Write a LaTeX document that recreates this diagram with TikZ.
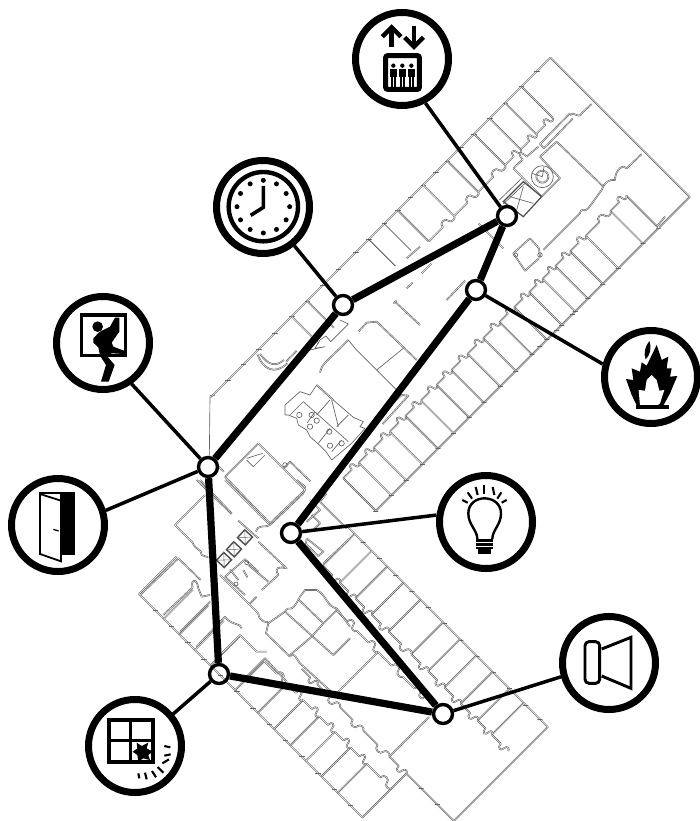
\documentclass[tikz,border=0pt]{standalone}
\usetikzlibrary{calc}
\tikzset{
  zf/.style 2 args={shift={(#1,#2)},x=.33333pt,y=-.33333pt},
  wall/.style={draw=black!62,double=white,double distance=.4pt,line width=.62pt,line join=round},
  thinw/.style={draw=black!62,line width=.65pt,line join=round},
  badge/.style={circle,draw=black,line width=7pt,minimum size=93pt,inner sep=0pt},
  hub/.style={circle,draw=black,line width=3.4pt,minimum size=19pt,inner sep=0pt},
  route/.style={draw=black,line width=7.2pt},
  spoke/.style={draw=black,line width=3.5pt},
  ic/.style={draw=black,line join=miter},
  wingA/.style={shift={(211,397)},x={(.7071pt,.7071pt)},y={(.7071pt,-.7071pt)}},
  wingB/.style={shift={(139,594)},x={(.7071pt,-.7071pt)},y={(.7071pt,.7071pt)}},
}
\newcommand\dw[4]{\pgfmathsetmacro\dwm{#1+.55*(#2-#1)}\pgfmathsetmacro\dwn{#1+.8*(#2-#1)}%
\draw[wall] (#1,#3)--(\dwm,#3) .. controls (\dwm,#3+#4) and (\dwn,#3+#4) .. (\dwn,#3) .. controls (\dwn,#3-.5*#4) and (#2,#3-.5*#4) .. (#2,#3);}
\newcommand\tick[2]{\draw[thinw,fill=white] (#1-1.6,#2-1.6) rectangle (#1+1.6,#2+1.6);}
\begin{document}
\begin{tikzpicture}[x=1pt,y=-1pt]
\useasboundingbox (0,0) rectangle (699,821);
\fill[white] (0,0) rectangle (699,821);

% ---------- wing A (upper, running up-right)
\begin{scope}[wingA]
  \draw[wall] (0,0)--(480,0)--(480,197)--(36,197)--(36,151);
  \foreach \u in {2,24,46,68,90,114,136,158,180,205,223,245,264,282,300,318,334,353,372,394,416,439,461} {\tick{\u}{0}}
  \foreach \u in {268,292,314} {\tick{\u}{197}}
  \foreach \u in {439,416,394,372,334,300,264} {\draw[wall] (\u,0)--(\u,44);}
  \foreach \u in {245,223} {\draw[thinw,draw=black!80] (\u,0)--(\u,38);}
  \foreach \u in {136,114} {\draw[wall] (\u,0)--(\u,38);}
  \foreach \a/\b in {264/300,300/334,334/372,372/394,394/416,416/439} {\dw{\a}{\b}{44}{-6}}
  \foreach \u in {36,58,79,102,124,146,168,189,212,234,257,278,299,318,336,357,379,414,436} {\draw[wall] (\u,197)--(\u,151);\tick{\u}{197}}
  \foreach \a/\b in {36/58,58/79,79/102,102/124,124/146,146/168,168/189,189/212,212/234,234/257,257/278,278/299,299/318,318/336,336/357,357/379,379/414,414/436} {\dw{\a}{\b}{151}{-6}}
  \draw[wall] (436,197)--(458,175);
\end{scope}

% ---------- wing B (lower, running down-right)
\begin{scope}[wingB]
  \draw[wall] (0,53)--(0,0)--(316,0)--(316,62)--(383,62)--(383,195)--(100,195);
  \foreach \p in {23,46,69,92,115,138,161,184,207,230,253,276,299} {\tick{\p}{0}}
  \foreach \p in {337,360} {\tick{\p}{62}}
  \foreach \p in {122,145,168,191,214,237,260,283,306,329,352,372} {\tick{\p}{195}}
  \foreach \p in {35,57,79,101,136,168,191,214,236,258,281} {\draw[wall] (\p,0)--(\p,41);}
  \foreach \a/\b in {136/168,168/191,191/214,214/236,236/258,258/281,281/316} {\dw{\a}{\b}{41}{6}}
  \foreach \p in {110,134,156,179,203,235,259,282,305,329,349} {\draw[wall] (\p,195)--(\p,150);}
  \foreach \a/\b in {110/134,134/156,156/179,179/203,203/235,235/259,259/282,282/305,305/329,329/349,349/372} {\dw{\a}{\b}{150}{-6}}
  \foreach \a/\b in {168/190,190/222,222/255,255/292,292/316} {\dw{\a}{\b}{62}{-6}}
  \draw[wall] (210,68)--(210,128);
  \draw[wall] (292,62)--(292,118);
  \foreach \a/\b in {150/180,180/210,210/245,245/275} {\dw{\a}{\b}{128}{6}}
\end{scope}

% ---------- central core, traced in the frame of the crops
\begin{scope}[zf={130}{480}]
  \draw[wall] (225,45)--(135,135)--(187,187) .. controls (200,215) and (215,205) .. (215,225) -- (235,232);
  \draw[wall] (30,345)--(145,235)--(212,300);
  \draw[wall] (100,405)--(188,322) .. controls (180,300) and (200,290) .. (205,325) -- (215,350) -- (240,345);
  \draw[wall] (150,455)--(240,365);
  \draw[wall] (200,500)--(285,410) .. controls (300,435) and (335,430) .. (335,445);
  \draw[wall] (270,525)--(330,465)--(380,515)--(410,515);
  \draw[wall] (350,590)--(405,535)--(470,605);
  \draw[wall] (270,285)--(385,400) .. controls (385,425) and (415,430) .. (415,425);
  \draw[wall] (360,370)--(380,350);
  \draw[wall] (285,290)--(345,238)--(385,275);
  \draw[wall] (285,290)--(345,345);
  \draw[wall] (300,268)--(325,300);
  \draw[wall] (395,330)--(445,285) .. controls (430,260) and (450,260) .. (470,265) -- (385,185);
  \draw[wall] (355,255)--(415,305);
  \draw[wall] (325,122)--(385,175);
  \draw[wall] (340,270)--(352,292);
  \draw[wall] (285,0)--(420,135)--(520,40)--(525,20)--(500,0);
  \draw[wall] (378,155) .. controls (385,130) and (405,145) .. (420,135);
  \draw[wall] (200,0)--(305,102);
  \draw[wall] (415,430)--(465,395) .. controls (480,370) and (480,410) .. (510,350)--(525,330)--(560,330) .. controls (590,345) and (590,380) .. (620,385) -- (660,440);
  \draw[wall] (415,430)--(408,460)--(480,530);
  \draw[wall] (465,395)--(610,525)--(660,475);
  \draw[wall] (505,358)--(580,430)--(620,390);
  \draw[wall] (480,525)--(545,470);
  \draw[wall] (545,470)--(580,430);
  \draw[wall] (480,530) .. controls (490,510) and (505,545) .. (510,550)--(620,650);
  \draw[wall] (530,175)--(580,215)--(565,228)--(528,192)--(530,175);
  \draw[wall] (545,105)--(570,130)--(550,150);
  \draw[wall] (580,250)--(660,175);
  % lift shaft boxes
  \foreach \cx/\cy in {282/240,312/208,345/172} {
    \begin{scope}[shift={(\cx,\cy)},rotate=-43]
      \draw[gray!60!black,line width=1.4pt] (-16,-16) rectangle (16,16);
      \draw[black!60,line width=.5pt] (-16,-16)--(16,16) (-16,16)--(16,-16);
    \end{scope}}
  \draw[thinw] (318,312) circle (6) (350,248) circle (6);
\end{scope}

\begin{scope}[zf={200}{280}]
  \draw[thinw] (30,350)--(28,530);
  \draw[wall] (30,350)--(40,345);
  \draw[wall] (172,222) .. controls (190,270) and (225,285) .. (262,250);
  \draw[wall] (180,222) .. controls (205,255) and (225,262) .. (252,240);
  \draw[wall] (258,245)--(290,212);
  \draw[thinw] (330,210)--(375,200)--(345,205)--(360,180)--(378,168)--(392,185)--(445,132)--(420,120);
  \draw[wall] (360,278) .. controls (362,255) and (380,245) .. (445,180);
  \draw[thinw] (445,180)--(465,205)--(590,330) (530,270)--(610,205);
  \draw[wall] (475,155)--(500,128)--(530,125)--(650,240);
  \draw[wall] (585,65)--(660,135);
  \draw[wall] (580,70)--(590,62);
  % wash-room cluster
  \draw[thinw] (255,405)--(255,375)--(300,335)--(330,345)--(350,315)--(400,360)--(460,412)--(490,425)--(480,440)--(495,445)--(455,490)--(395,540)--(378,515)--(358,495)--(330,470)--(320,450)--(295,435)--(290,415)--(265,405)--(255,405);
  \draw[wall] (350,315)--(400,360);
  \draw[thinw] (310,365)--(270,405) (310,365)--(445,485) (350,405)--(390,360) (395,360)--(415,440) (410,440)--(445,405)
               (345,395)--(322,428) (390,445)--(355,490) (425,480)--(395,515);
  \foreach \x/\y in {298/405,335/405,350/422,330/440,388/455,390/497,425/490} {\draw[thinw] (\x,\y) circle (8);}
  % lower-left room
  \draw[wall] (75,590)--(175,490)--(250,565);
  \draw[wall] (75,590)--(210,730)--(315,630)--(250,565);
  \draw[wall] (250,565)--(270,545)--(332,605);
  \draw[thinw] (140,540)--(160,560)--(195,525) (140,535)--(188,520);
  \draw[wall] (0,600)--(95,700);
  \draw[wall] (50,555)--(72,575);
  \draw[thinw] (255,555) circle (7);
  % strip beside the route
  \draw[wall] (548,432)--(625,347)--(605,345)--(530,415);
  \draw[wall] (380,640)--(360,665)--(440,745);
  \draw[wall] (320,725)--(360,690)--(330,660);
\end{scope}

\begin{scope}[zf={340}{0}]
  \draw[wall] (755,312)--(725,340) .. controls (715,360) and (700,330) .. (690,345);
  \draw[wall] (690,340)--(600,432)--(612,445)--(698,356);
  \draw[wall] (905,462)--(860,505) .. controls (850,490) and (825,510) .. (825,540) .. controls (810,535) and (790,550) .. (785,570)--(745,625);
  \draw[wall] (650,425)--(790,560);
  \draw[wall] (600,470)--(650,425);
  \draw[wall] (600,470)--(660,535)--(605,590);
  \draw[wall] (520,505)--(605,590);
  \draw[wall] (520,505)--(548,478) .. controls (530,460) and (540,450) .. (560,470) -- (595,440);
  \draw[black!70,line width=1.2pt] (550,545)--(605,590)--(550,650)--(490,605)--cycle;
  \draw[thinw] (550,560)--(530,630) (510,590)--(580,610) (478,600)--(545,535) (490,612)--(555,550);
  \draw[thinw] (607,530) circle (33);
  \draw[wall] (607,530) circle (18);
  \draw[thinw] (607,530)--(575,520) (607,530)--(612,500);
  \draw[wall] (745,625) .. controls (725,640) and (725,620) .. (720,640)--(610,750);
  \draw[wall] (570,715)--(520,760)--(555,812)--(597,775);
  \draw[wall] (570,715)--(597,745)--(600,770);
  \draw[thinw] (600,765) circle (7) (527,765) circle (6);
  \draw[wall] (415,670)--(490,745);
  \draw[wall] (200,775)--(240,740);
  \draw[wall] (245,820)--(275,790);
  \draw[wall] (200,865)--(218,848);
  \draw[wall] (320,900)--(375,842);
  \draw[wall] (975,650)--(950,680);
\end{scope}

% ---------- hubs and badges
\node[hub] (elevHub) at (507,216) {};
\node[hub] (fireHub) at (476,290) {};
\node[hub] (clockHub) at (343,305) {};
\node[hub] (doorHub) at (208,467) {};
\node[hub] (glassHub) at (219,674) {};
\node[hub,fill=white] (soundHub) at (443,714) {};
\node[hub,fill=white] (lightHub) at (291,533) {};

\node[badge] (elev) at (402,59) {};
\node[badge] (clock) at (263,207) {};
\node[badge] (thief) at (103,343) {};
\node[badge] (door) at (58,525) {};
\node[badge] (glass) at (135,746) {};
\node[badge] (sound) at (609,663) {};
\node[badge] (light) at (486,522) {};
\node[badge] (fire) at (651,377) {};

\draw[route] (elevHub) -- (clockHub);
\draw[route] (clockHub) -- (doorHub);
\draw[route] (doorHub) -- (glassHub);
\draw[route] (glassHub) -- (soundHub);
\draw[route] (soundHub) -- (lightHub);
\draw[route] (lightHub) -- (fireHub);
\draw[route] (fireHub) -- (elevHub);

\draw[spoke] (elev.-62) -- (elevHub);
\draw[spoke] (clock.-51) -- (clockHub);
\draw[spoke] (thief.-55) -- (doorHub);
\draw[spoke] (door.17) -- (doorHub);
\draw[spoke] (glass.40) -- (glassHub);
\draw[spoke] (sound.196) -- (soundHub);
\draw[spoke] (light.172) -- (lightHub);
\draw[spoke] (fire.165) -- (fireHub);

% ---------- icons
% lift
\begin{scope}[zf={340}{0}]
  \draw[ic,line width=4.4pt] (155,142)--(155,85) (222,78)--(222,135);
  \draw[ic,line width=4.4pt] (127,110)--(155,82)--(183,110);
  \draw[ic,line width=4.4pt] (194,112)--(222,140)--(250,112);
  \draw[ic,line width=5pt,rounded corners=2pt] (137,167) rectangle (238,268);
  \foreach \x in {160,187,214} {
    \fill (\x,197) circle (6.5);
    \fill (\x-11,206) rectangle (\x+11,232);
    \fill (\x-8,230) rectangle (\x-1,260);
    \fill (\x+1,230) rectangle (\x+8,260);
  }
\end{scope}
% clock
\begin{scope}[zf={0}{150}]
  \draw[ic,line width=4.4pt] (790,170) circle (104);
  \foreach \a in {0,30,...,330} {\fill ($(790,170)+(\a:79)$) circle (7.5);}
  \draw[ic,line width=3.6pt] (790,108)--(790,172)--(752,196);
\end{scope}
% intruder
\begin{scope}[zf={0}{150}]
  \draw[ic,line width=3.6pt] (245,495) rectangle (376,617);
  \fill[white] (362,503) rectangle (370,590);
  \fill (293,530) circle (16);
  \fill (280,565)--(298,546)--(330,530)--(345,503)--(358,503)--(358,545)--(335,578)--(340,590)--(372,602)--(372,612)--(335,610)--(320,617)--(344,645)--(326,695)--(303,695)--(318,645)--(300,617)--(295,592)--(280,578)--cycle;
\end{scope}
% door
\begin{scope}[zf={0}{450}]
  \fill (116,125) rectangle (226,315);
  \fill[white] (122,131) rectangle (180,312);
  \draw[ic,line width=1.8pt,fill=white] (120,132)--(183,152)--(183,334)--(120,312)--cycle;
  \draw[ic,line width=1.3pt] (160,238)--(176,243);
\end{scope}
% breaking window
\begin{scope}[zf={0}{450}]
  \draw[ic,line width=4pt] (326,809) rectangle (459,937);
  \draw[ic,line width=3.4pt] (392,809)--(392,937) (326,872)--(459,872);
  \fill (410,878)--(425,888)--(445,878)--(440,895)--(458,905)--(445,915)--(450,930)--(430,925)--(415,935)--(412,915)--(398,905)--(412,895)--cycle;
  \foreach \a/\b/\c/\d in {493/888/511/892,493/917/512/913,487/940/507/928,473/951/490/968,456/963/468/982,435/968/440/988,415/970/418/985} {\draw[ic,line width=2.1pt] (\a,\b)--(\c,\d);}
\end{scope}
% sounder
\begin{scope}[zf={300}{580}]
  \draw[ic,line width=2.9pt,rounded corners=4pt] (855,185) rectangle (899,310);
  \draw[ic,line width=2.9pt] (905,207)--(993,172)--(993,325)--(905,288);
\end{scope}
% bulb
\begin{scope}[zf={300}{300}]
  \draw[ic,line width=2.4pt] (532,717) .. controls (532,690) and (505,675) .. (505,640) .. controls (505,610) and (530,595) .. (553,595) .. controls (580,595) and (603,612) .. (603,640) .. controls (603,675) and (577,690) .. (577,717);
  \fill (528,717) rectangle (580,748);
  \fill (535,748) rectangle (572,762);
  \foreach \y in {728,740} {\draw[white,line width=.4pt] (528,\y)--(580,\y);}
  \foreach \a/\b/\c/\d in {553/556/553/581,527/561/533/585,578/561/583/585,503/577/516/596,604/577/592/596,487/600/503/608,620/600/605/608} {\draw[ic,line width=2.1pt] (\a,\b)--(\c,\d);}
\end{scope}
% flame
\begin{scope}[zf={300}{300}]
  \fill (1012,320)--(995,285)--(978,237)--(1000,240)--(995,205)--(1020,215)--(1025,187)--(1040,197)--(1070,135)--(1085,180)--(1105,170)--(1100,205)--(1115,205)--(1110,230)--(1132,228)--(1110,280)--(1088,320)--cycle;
  \fill[white] (1020,318)--(1016,270)--(1035,272)--(1040,240)--(1055,225)--(1070,240)--(1078,272)--(1093,270)--(1080,310)--(1065,322)--(1045,322)--cycle;
  \fill (1007,316) rectangle (1108,326);
  \fill (1048,123) .. controls (1056,145) and (1050,165) .. (1037,178) .. controls (1030,160) and (1035,140) .. (1048,123);
\end{scope}
\end{tikzpicture}
\end{document}
